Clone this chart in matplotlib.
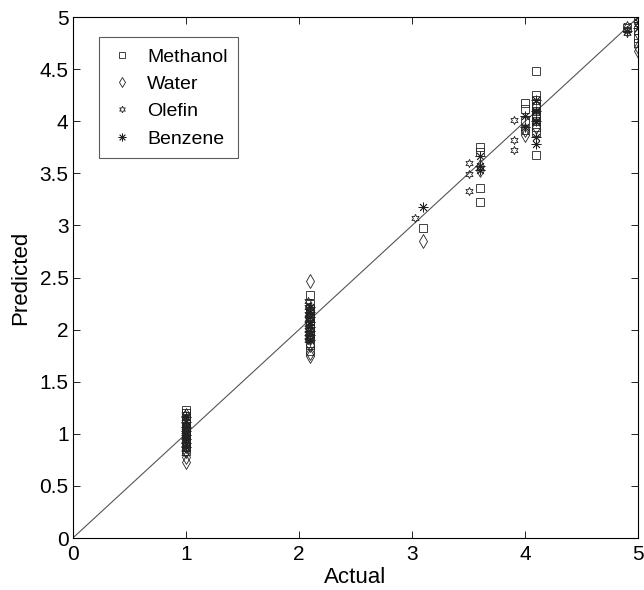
import numpy as np
import matplotlib.pyplot as plt

plt.rcParams['font.family'] = ['Liberation Sans', 'DejaVu Sans']

# Actual vs predicted values
methanol_actual = [1.0, 1.0, 1.0, 1.0, 1.0, 1.0, 1.0, 1.0, 1.0, 1.0, 1.0, 1.0, 1.0, 1.0, 1.0, 1.0, 1.0,
                   2.1, 2.1, 2.1, 2.1, 2.1, 2.1, 2.1, 2.1, 2.1, 2.1, 2.1, 2.1, 2.1,
                   3.1, 3.6, 3.6, 3.6, 3.6,
                   4.0, 4.0, 4.0, 4.0,
                   4.1, 4.1, 4.1, 4.1, 4.1, 4.1, 4.1, 4.1, 4.1, 4.1,
                   5.0, 5.0, 5.0, 5.0, 4.9]
methanol_pred = [1.23, 1.20, 1.17, 1.14, 1.12, 1.10, 1.08, 1.06, 1.04, 1.02, 1.00, 0.98, 0.96, 0.93, 0.90, 0.87, 0.84,
                 2.33, 2.25, 2.20, 2.15, 2.12, 2.08, 2.05, 2.02, 1.98, 1.95, 1.92, 1.85, 1.80,
                 2.98, 3.75, 3.71, 3.36, 3.23,
                 4.18, 4.12, 4.00, 3.92,
                 4.48, 4.25, 4.20, 4.15, 4.10, 4.05, 4.00, 3.95, 3.90, 3.68,
                 4.97, 4.88, 4.80, 4.75, 4.90]

water_actual = [1.0, 1.0, 1.0, 1.0, 1.0, 1.0, 1.0, 1.0, 1.0, 1.0,
                2.1, 2.1, 2.1, 2.1, 2.1, 2.1, 2.1, 2.1,
                3.1, 3.6, 3.6,
                4.0, 4.0, 4.1, 4.1, 4.1,
                5.0, 5.0, 5.0]
water_pred = [1.18, 1.12, 1.06, 1.01, 0.96, 0.92, 0.88, 0.84, 0.78, 0.73,
              2.47, 2.20, 2.10, 2.00, 1.92, 1.85, 1.78, 1.75,
              2.85, 3.57, 3.53,
              3.92, 3.87, 4.15, 4.05, 3.95,
              4.85, 4.71, 4.67]

olefin_actual = [0.99, 0.99, 0.99, 0.99, 0.99, 0.99, 0.99, 0.99, 0.99,
                 2.08, 2.08, 2.08, 2.08, 2.08, 2.08, 2.08, 2.08, 2.08,
                 3.03, 3.5, 3.5, 3.5,
                 3.9, 3.9, 3.9, 4.1, 4.1,
                 4.9, 4.9, 4.9, 5.0]
olefin_pred = [1.19, 1.15, 1.09, 1.03, 0.99, 0.94, 0.90, 0.86, 0.82,
               2.28, 2.22, 2.15, 2.10, 2.05, 2.00, 1.97, 1.93, 1.90,
               3.07, 3.33, 3.49, 3.60,
               3.72, 3.82, 4.01, 4.10, 4.00,
               4.92, 4.88, 4.85, 4.93]

benzene_actual = [1.0, 1.0, 1.0, 1.0, 1.0, 1.0, 1.0, 1.0,
                  2.1, 2.1, 2.1, 2.1, 2.1, 2.1, 2.1, 2.1,
                  3.1, 3.6, 3.6, 3.6,
                  4.0, 4.0, 4.1, 4.1, 4.1, 4.1, 4.1,
                  5.0, 5.0, 5.0, 4.9]
benzene_pred = [1.16, 1.11, 1.07, 1.03, 0.99, 0.95, 0.91, 0.87,
                2.22, 2.17, 2.12, 2.07, 2.03, 1.99, 1.95, 1.90,
                3.18, 3.67, 3.57, 3.53,
                4.05, 3.95, 4.20, 4.10, 4.00, 3.85, 3.78,
                5.00, 4.95, 4.90, 4.87]

fig = plt.figure(figsize=(6.44, 5.9), dpi=100)
ax = fig.add_axes([0.113, 0.088, 0.878, 0.883])

ax.plot([0, 5], [0, 5], color='#555555', linewidth=0.8)

mk = dict(linestyle='none', markerfacecolor='none', markeredgecolor='#222222', markeredgewidth=0.6)
ax.plot(methanol_actual, methanol_pred, marker='s', markersize=6, label='Methanol', **mk)
ax.plot(water_actual, water_pred, marker='d', markersize=7, label='Water', **mk)
ax.plot(olefin_actual, olefin_pred, marker=(6, 1, 0), markersize=6, label='Olefin', **mk)
ax.plot(benzene_actual, benzene_pred, marker=(8, 2, 0), markersize=7, label='Benzene', **mk)

ax.set_xlim(0, 5)
ax.set_ylim(0, 5)
ax.set_xticks(np.arange(0, 6, 1))
ax.set_yticks(np.arange(0, 5.5, 0.5))
ax.set_yticklabels(['0', '0.5', '1', '1.5', '2', '2.5', '3', '3.5', '4', '4.5', '5'])
ax.tick_params(direction='in', top=True, right=True, labelsize=15, length=5, width=0.6)
ax.tick_params(axis='x', pad=5)
ax.tick_params(axis='y', pad=3)
for s in ax.spines.values():
    s.set_linewidth(0.8)

ax.set_xlabel('Actual', fontsize=16, labelpad=2)
ax.set_ylabel('Predicted', fontsize=16, labelpad=6)

leg = ax.legend(loc='upper left', bbox_to_anchor=(0.03, 0.98), fontsize=14, frameon=True,
                fancybox=False, edgecolor='#333333', handlelength=1.2, borderpad=0.55,
                labelspacing=0.5, handletextpad=0.7, markerscale=0.8)
leg.get_frame().set_linewidth(0.8)

fig.savefig('out.png', dpi=100)
